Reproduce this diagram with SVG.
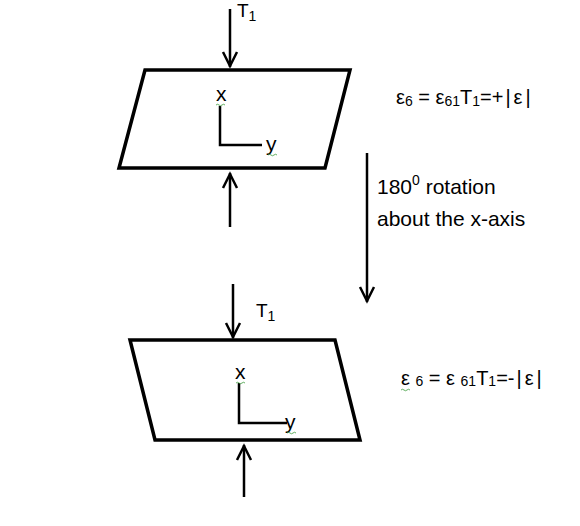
<svg xmlns="http://www.w3.org/2000/svg" width="580" height="526" viewBox="0 0 580 526">
<style>
.sh{fill:none;stroke:#000;stroke-width:3.5;stroke-linejoin:miter}
.ax{fill:none;stroke:#000;stroke-width:2.5}
.ln{fill:none;stroke:#000;stroke-width:2.5}
.hd{fill:none;stroke:#000;stroke-width:2.5}
text{font-family:"Liberation Sans","DejaVu Sans",sans-serif;fill:#000}
.t{font-size:19px}
.a{font-size:21px}
.r{font-size:21px}
.e{font-size:20px}
.s{font-size:14px}
.sq{fill:none;stroke:#3a9a3a;stroke-width:0.8}
</style>
<rect width="580" height="526" fill="#fff"/>
<g id="top-plate">
<polygon class="sh" points="145,70 350,70 325,168 119,168"/>
<path class="ax" d="M220,106 V145 H262"/>
<text class="a" x="216" y="101">x</text>
<text class="a" x="266" y="151">y</text>
<path class="sq" d="M216,105 q1.5,-1.5 3,0 t3,0 t3,0"/>
<path class="sq" d="M268,155 q1.5,-1.5 3,0 t3,0 t3,0"/>
</g>
<g id="bottom-plate">
<polygon class="sh" points="130,340 335,340 360,440 155,440"/>
<path class="ax" d="M239,383 V423 H287"/>
<text class="a" x="235" y="379">x</text>
<text class="a" x="285" y="429">y</text>
<path class="sq" d="M236,383 q1.5,-1.5 3,0 t3,0 t3,0"/>
<path class="sq" d="M287,433 q1.5,-1.5 3,0 t3,0 t3,0"/>
</g>
<g id="connectors">
<line class="ln" x1="230" y1="9" x2="230" y2="67"/>
<path class="hd" d="M223,52 L230,66 L237,52"/>
<line class="ln" x1="230" y1="227" x2="230" y2="173"/>
<path class="hd" d="M223,188 L230,174 L237,188"/>
<line class="ln" x1="367" y1="153" x2="367" y2="302"/>
<path class="hd" d="M360,287 L367,301 L374,287"/>
<line class="ln" x1="233" y1="284" x2="233" y2="338"/>
<path class="hd" d="M226,323 L233,337 L240,323"/>
<line class="ln" x1="244" y1="497" x2="244" y2="445"/>
<path class="hd" d="M237,460 L244,446 L251,460"/>
</g>
<g id="labels">
<text class="t" x="237" y="17">T<tspan class="s" dy="4">1</tspan></text>
<text class="t" x="256" y="317">T<tspan class="s" dy="4">1</tspan></text>
<text class="e" x="396" y="104">ε<tspan class="s" dy="2">6</tspan><tspan dy="-2"> = ε</tspan><tspan class="s" dy="2">61</tspan><tspan dy="-2">T</tspan><tspan class="s" dy="2">1</tspan><tspan dy="-2">=+</tspan><tspan dx="2">|</tspan><tspan dx="3">ε</tspan><tspan dx="3">|</tspan></text>
<text class="r" x="377" y="194">180<tspan class="s" dy="-9">0</tspan><tspan dy="9"> rotation</tspan></text>
<text class="r" x="377" y="226">about the x-axis</text>
<text class="e" x="401" y="385">ε <tspan class="s" dy="1">6</tspan><tspan dy="-1"> = ε </tspan><tspan class="s" dy="1">61</tspan><tspan dy="-1">T</tspan><tspan class="s" dy="1">1</tspan><tspan dy="-1">=-</tspan><tspan dx="2">|</tspan><tspan dx="3">ε</tspan><tspan dx="3">|</tspan></text>
<path class="sq" d="M401,390 q1.5,-1.5 3,0 t3,0 t3,0"/>
</g>
</svg>
